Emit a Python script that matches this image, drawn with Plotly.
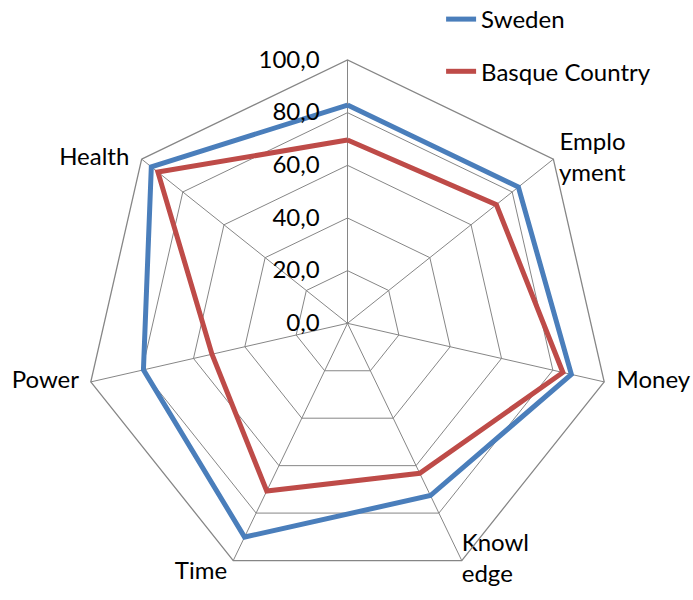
import plotly.graph_objects as go

categories = [" ", "Emplo<br>yment", "Money", "Knowl<br>edge", "Time", "Power", "Health"]
sweden = [82.9, 83.0, 87.2, 72.6, 90.1, 79.5, 95.3]
basque = [69.6, 72.3, 83.9, 63.2, 70.7, 52.8, 92.1]
radial_ticks = [0, 20, 40, 60, 80, 100]
radial_labels = ["0,0", "20,0", "40,0", "60,0", "80,0", "100,0"]

FONT = "Lato"
GRID = "#868686"
FS = 24
NB = "\u00a0"

fig = go.Figure()
fig.add_trace(go.Scatterpolar(
    r=sweden + sweden[:1], theta=categories + categories[:1],
    mode="lines", name="Sweden", legendgroup="a", hoverinfo="skip",
    line=dict(color="#4a7ebb", width=5)))
fig.add_trace(go.Scatterpolar(
    r=basque + basque[:1], theta=categories + categories[:1],
    mode="lines", name="Basque Country", legendgroup="b", hoverinfo="skip",
    line=dict(color="#be4b48", width=5)))

# category labels at the outer ring (small spacing tweaks in the strings)
label_text = [" ",
              NB + "Emplo<br>" + NB + "yment",
              NB * 2 + "Money",
              "Knowl<br>edge",
              "Time" + NB,
              "Power" + NB * 2,
              "Health" + NB * 2]
label_pos = ["top center", "middle right", "middle right", "middle right",
             "bottom left", "middle left", "middle left"]
fig.add_trace(go.Scatterpolar(
    r=[100] * len(categories), theta=categories, mode="text",
    text=label_text, textposition=label_pos, cliponaxis=False,
    textfont=dict(size=FS, family=FONT, color="black"),
    showlegend=False, hoverinfo="skip"))

fig.update_layout(
    width=693, height=600,
    margin=dict(l=0, r=0, t=0, b=0, autoexpand=False),
    paper_bgcolor="white",
    font=dict(family=FONT, size=FS, color="black"),
    polar=dict(
        domain=dict(x=[0.1215, 0.8814], y=[0.0223, 0.9]),
        bgcolor="white",
        gridshape="linear",
        radialaxis=dict(
            range=[0, 100], tickvals=radial_ticks, ticktext=radial_labels,
            angle=90, tickangle=90, side="counterclockwise",
            showline=False, gridcolor=GRID, gridwidth=1.3,
            ticks="outside", ticklen=19, tickcolor="rgba(0,0,0,0)",
            tickfont=dict(size=FS, family=FONT, color="black")),
        angularaxis=dict(
            rotation=90, direction="clockwise", categoryorder="array",
            categoryarray=categories, showticklabels=False,
            showline=True, linecolor=GRID, linewidth=1.3,
            gridcolor=GRID, gridwidth=1.3, ticks=""),
    ),
    legend=dict(x=0.6365, y=1.005, xanchor="left", yanchor="top",
                traceorder="grouped", tracegroupgap=18,
                font=dict(size=FS, family=FONT), bgcolor="rgba(0,0,0,0)"),
    showlegend=True,
)

fig.write_html("out.html",
               config={"displayModeBar": False},
               post_script="document.body.style.margin='0';"
                           "document.body.style.overflow='hidden';")
